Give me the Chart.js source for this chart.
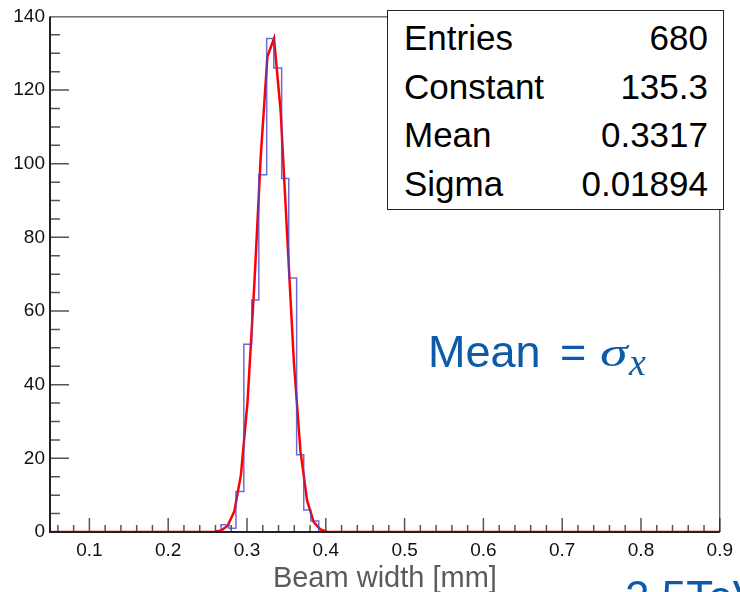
<!DOCTYPE html>
<html>
<head>
<meta charset="utf-8">
<script src="https://cdn.jsdelivr.net/npm/chart.js@4.4.1/dist/chart.umd.min.js"></script>
<style>
  html, body { margin: 0; padding: 0; background: #fff; }
  #wrap { position: relative; width: 740px; height: 592px; overflow: hidden;
          font-family: "Liberation Sans", Arial, sans-serif; }
  #beam { position: absolute; left: 0; top: 0; }
  #stats { position: absolute; left: 387px; top: 10px; width: 335px; height: 195px;
           border: 1px solid #222; background: #fff; padding-top: 3px; box-sizing: content-box; }
  #stats .row { display: flex; justify-content: space-between; height: 48.5px; line-height: 48.5px;
                font-size: 35px; color: #000; padding: 0 15px 0 16px; }
  .ann { position: absolute; line-height: 1; white-space: nowrap; color: #0b5ba8; }
  .sans { font-family: "Liberation Sans", Arial, sans-serif; }
  .math { font-family: "Liberation Serif", "DejaVu Serif", serif; font-style: italic; transform-origin: left center; }
</style>
</head>
<body>
<div id="wrap">
  <canvas id="beam" width="740" height="592"></canvas>
  <div id="stats"></div>
  <div class="ann sans" style="left:428px; top:329px; font-size:45px;">Mean</div>
  <div class="ann sans" style="left:560px; top:329px; font-size:45px;">=</div>
  <div class="ann math" style="left:600px; top:333px; font-size:40px; transform:scaleX(1.4);">σ</div>
  <div class="ann math" style="left:629px; top:343px; font-size:38px;">x</div>
  <div class="ann sans" style="left:625px; top:575px; font-size:44px;">2.5TeV</div>
</div>
<script>
/* ── Histogram: beam width distribution ── */
const binEdges  = [0.267, 0.277, 0.286, 0.296, 0.306, 0.315, 0.325, 0.334, 0.344, 0.353, 0.363, 0.372, 0.381, 0.391];
const binCounts = [2, 1, 11, 51, 63, 97, 134, 126, 96, 69, 21, 6, 3];

/* Gaussian fit curve (polyline as drawn) */
const fitX = [0.05, 0.2503, 0.2587, 0.2671, 0.2755, 0.2839, 0.2923, 0.3007, 0.3091, 0.3175, 0.3259,
              0.3343, 0.3427, 0.3511, 0.3595, 0.3679, 0.3763, 0.3847, 0.3931, 0.4015, 0.9];
const fitY = [0, 0, 0.1, 0.4, 1.7, 5.6, 15.5, 35.4, 66.4, 102.2, 129.1,
              134.0, 114.3, 80.1, 46.1, 21.8, 8.5, 2.7, 0.7, 0.1, 0];

/* Axes */
const xTickValues = [0.1, 0.2, 0.3, 0.4, 0.5, 0.6, 0.7, 0.8, 0.9];
const xTickLabels = ['0.1', '0.2', '0.3', '0.4', '0.5', '0.6', '0.7', '0.8', '0.9'];
const yTickValues = [0, 20, 40, 60, 80, 100, 120, 140];
const yTickLabels = ['0', '20', '40', '60', '80', '100', '120', '140'];

/* Stats box */
const statNames  = ['Entries', 'Constant', 'Mean', 'Sigma'];
const statValues = ['680', '135.3', '0.3317', '0.01894'];

const statsBox = document.getElementById('stats');
statNames.forEach((n, i) => {
  const row = document.createElement('div');
  row.className = 'row';
  row.innerHTML = `<span>${n}</span><span>${statValues[i]}</span>`;
  statsBox.appendChild(row);
});

/* histogram outline as step points (horizontal at bin value, then vertical) */
const histPoints = [{ x: 0.05, y: 0 }, { x: binEdges[0], y: 0 }];
binCounts.forEach((c, i) => histPoints.push({ x: binEdges[i], y: c }));
histPoints.push({ x: binEdges[binEdges.length - 1], y: binCounts[binCounts.length - 1] });
histPoints.push({ x: binEdges[binEdges.length - 1], y: 0 });
histPoints.push({ x: 0.9, y: 0 });

const fitPoints = fitX.map((x, i) => ({ x, y: fitY[i] }));

/* ROOT-style frame with inward ticks, drawn over the data */
const rootFrame = {
  id: 'rootFrame',
  afterDatasetsDraw(chart) {
    const { ctx, chartArea: a, scales: { x, y } } = chart;
    ctx.save();
    ctx.strokeStyle = '#555';
    ctx.lineWidth = 1.5;
    ctx.beginPath();
    for (let k = 0; k <= 42; k++) {
      const v = 0.06 + k * 0.02;
      const major = Math.round(v * 100) % 10 === 0;
      const px = x.getPixelForValue(v);
      ctx.moveTo(px, a.bottom);
      ctx.lineTo(px, a.bottom - (major ? 14 : 7));
    }
    for (let k = 1; k < 28; k++) {
      const py = y.getPixelForValue(k * 5);
      ctx.moveTo(a.left, py);
      ctx.lineTo(a.left + (k % 4 === 0 ? 19 : 10), py);
    }
    ctx.stroke();

    ctx.strokeStyle = '#222';
    ctx.lineWidth = 1;
    ctx.beginPath();
    ctx.moveTo(a.left, a.top + 0.5);
    ctx.lineTo(a.right, a.top + 0.5);
    ctx.lineTo(a.right, a.bottom);
    ctx.stroke();
    ctx.lineWidth = 2;
    ctx.beginPath();
    ctx.moveTo(a.left, a.top);
    ctx.lineTo(a.left, a.bottom);
    ctx.lineTo(a.right, a.bottom);
    ctx.stroke();
    ctx.restore();
  },
};

Chart.defaults.font.family = '"Liberation Sans", Arial, sans-serif';

new Chart(document.getElementById('beam'), {
  type: 'line',
  data: {
    datasets: [
      {
        label: 'hist',
        data: histPoints,
        stepped: 'before',
        borderColor: 'rgba(70,70,200,0.8)',
        borderWidth: 1.5,
        pointRadius: 0,
        fill: false,
      },
      {
        label: 'gaus',
        data: fitPoints,
        borderColor: '#ff0000',
        borderWidth: 2.5,
        pointRadius: 0,
        tension: 0,
        fill: false,
      },
    ],
  },
  options: {
    responsive: false,
    animation: false,
    layout: { padding: { left: 0, top: 12, right: 16.5, bottom: 0 } },
    plugins: { legend: { display: false }, tooltip: { enabled: false } },
    scales: {
      x: {
        type: 'linear',
        min: 0.05,
        max: 0.9,
        afterBuildTicks: s => { s.ticks = xTickValues.map(v => ({ value: v })); },
        afterFit: s => { s.height = 60; },
        grid: { display: false, drawTicks: false },
        border: { display: false },
        ticks: {
          autoSkip: false, maxRotation: 0, padding: 7,
          color: '#111', font: { size: 19 },
          callback: (v, i) => xTickLabels[i],
        },
        title: {
          display: true, text: 'Beam width [mm]',
          color: '#5b5b5b', font: { size: 29 },
          padding: { top: 4, bottom: -4 },
        },
      },
      y: {
        min: 0,
        max: 140,
        afterBuildTicks: s => { s.ticks = yTickValues.map(v => ({ value: v })); },
        afterFit: s => { s.width = 50; },
        grid: { display: false, drawTicks: false },
        border: { display: false },
        ticks: {
          padding: 5, color: '#111', font: { size: 19 },
          callback: (v, i) => yTickLabels[i],
        },
      },
    },
  },
  plugins: [rootFrame],
});
</script>
</body>
</html>
